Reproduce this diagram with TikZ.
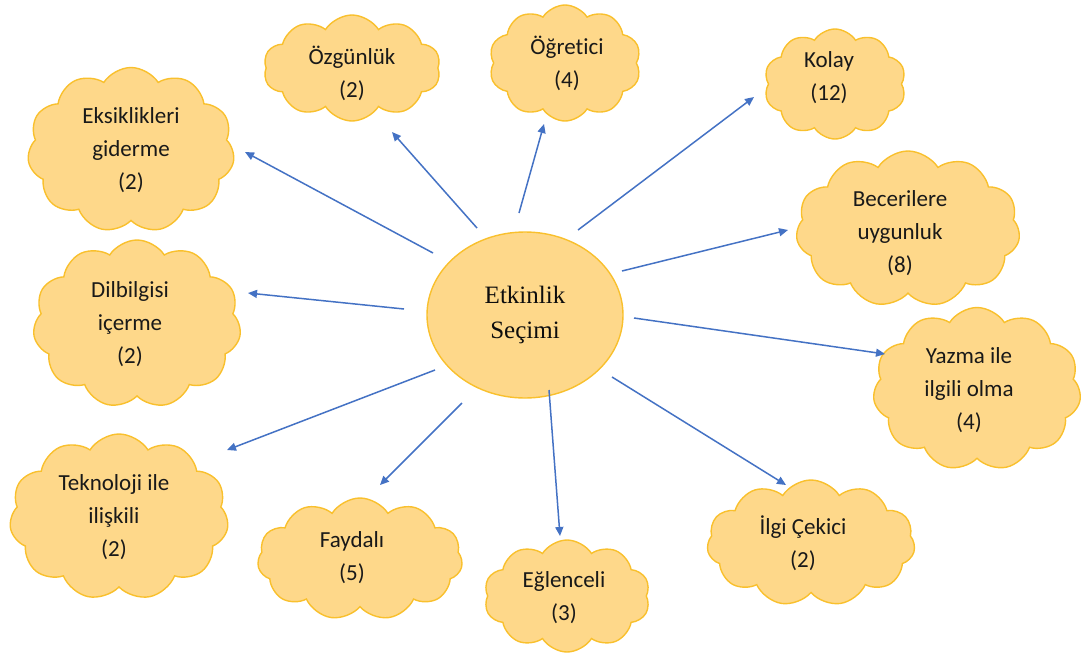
\documentclass[tikz,border=0pt]{standalone}
\usepackage{fontspec}
\setmainfont[Ligatures=NoCommon]{Carlito}
\newfontfamily\tnr{Liberation Serif}
\usetikzlibrary{shapes.symbols,shapes.geometric,arrows.meta}
\definecolor{cloudfill}{RGB}{254,216,138}
\definecolor{cloudline}{RGB}{249,192,45}
\definecolor{arrowblue}{RGB}{68,114,196}
\tikzset{
  cloudbox/.style={cloud, cloud puffs=11, cloud puff arc=115, cloud ignores aspect,
    draw=cloudline, fill=cloudfill, line width=1.4pt, inner sep=0pt},
  cloudtext/.style={align=center, inner sep=0pt, text=black!90,
    font=\fontsize{23}{33}\selectfont},
  hub/.style={ellipse, draw=cloudline, fill=cloudfill, line width=1.4pt,
    minimum width=196pt, minimum height=166pt, inner sep=0pt, align=center,
    text=black!95, font=\tnr\fontsize{25}{35}\selectfont},
  link/.style={draw=arrowblue, line width=1.5pt,
    -{Triangle[length=9pt,width=8pt]}}
}
\begin{document}
\begin{tikzpicture}[x=1pt,y=-1pt]
\useasboundingbox (0,0) rectangle (1082,659);

% central topic
\node[hub] (hub) at (525,315) {Etkinlik\\Seçimi};

% surrounding clouds
\node[cloudbox, minimum width=207pt, minimum height=165pt] (eks) at (131,150) {};
\node[cloudtext] (eksT) at (131,150) {Eksiklikleri\\giderme\\(2)};

\node[cloudbox, minimum width=177pt, minimum height=106pt, cloud puffs=10] (ozg) at (352,68) {};
\node[cloudtext] (ozgT) at (352,73) {Özgünlük\\(2)};

\node[cloudbox, minimum width=152pt, minimum height=116pt, cloud puffs=10] (ogr) at (565,63) {};
\node[cloudtext] (ogrT) at (567,63) {Öğretici\\(4)};

\node[cloudbox, minimum width=142pt, minimum height=110pt, cloud puffs=10] (kol) at (835,84) {};
\node[cloudtext] (kolT) at (829,78) {Kolay\\(12)};

\node[cloudbox, minimum width=224pt, minimum height=156pt] (bec) at (908,229) {};
\node[cloudtext] (becT) at (900,233) {Becerilere\\uygunluk\\(8)};

\node[cloudbox, minimum width=208pt, minimum height=163pt] (yaz) at (977,389) {};
\node[cloudtext] (yazT) at (969,390) {Yazma ile\\ilgili olma\\(4)};

\node[cloudbox, minimum width=208pt, minimum height=126pt] (ilg) at (811,543) {};
\node[cloudtext] (ilgT) at (803,543) {İlgi Çekici\\(2)};

\node[cloudbox, minimum width=166pt, minimum height=112pt, cloud puffs=10] (egl) at (567,596) {};
\node[cloudtext] (eglT) at (564,598) {Eğlenceli\\(3)};

\node[cloudbox, minimum width=205pt, minimum height=122pt] (fay) at (360,559) {};
\node[cloudtext] (fayT) at (352,558) {Faydalı\\(5)};

\node[cloudbox, minimum width=219pt, minimum height=166pt] (tek) at (119,517) {};
\node[cloudtext] (tekT) at (114,517) {Teknoloji ile\\ilişkili\\(2)};

\node[cloudbox, minimum width=208pt, minimum height=168pt] (dil) at (137,324) {};
\node[cloudtext] (dilT) at (130,324) {Dilbilgisi\\içerme\\(2)};

% arrow end points, kept clear of the shapes
\coordinate (s1) at (433,253);  \coordinate (e1) at (245,152);
\coordinate (s2) at (477,228);  \coordinate (e2) at (392,132);
\coordinate (s3) at (519,213);  \coordinate (e3) at (544,124);
\coordinate (s4) at (578,230);  \coordinate (e4) at (754,97);
\coordinate (s5) at (622,271);  \coordinate (e5) at (788,230);
\coordinate (s6) at (634,318);  \coordinate (e6) at (885,354);
\coordinate (s7) at (612,377);  \coordinate (e7) at (786,485);
\coordinate (s8) at (549,390);  \coordinate (e8) at (560,536);
\coordinate (s9) at (462,403);  \coordinate (e9) at (380,485);
\coordinate (s10) at (435,370); \coordinate (e10) at (227,450);
\coordinate (s11) at (404,309); \coordinate (e11) at (248,293);

\foreach \i in {1,...,11}
  \draw[link] (s\i) -- (e\i);
\end{tikzpicture}
\end{document}
